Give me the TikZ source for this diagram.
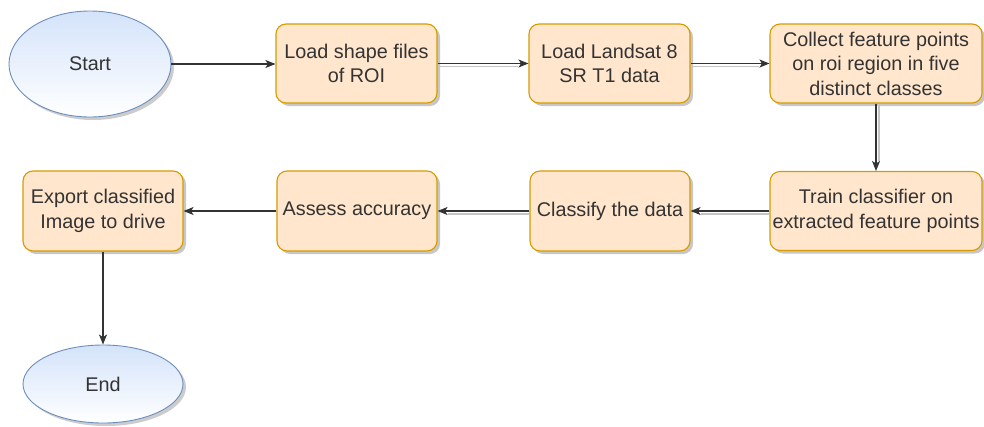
\documentclass[tikz,border=0pt]{standalone}
\usepackage{fontspec}
\setmainfont{Liberation Sans}
\usetikzlibrary{arrows.meta,shadows,shapes.geometric}
\definecolor{boxfill}{HTML}{FFE6CC}
\definecolor{boxline}{HTML}{D79B00}
\definecolor{ovaltop}{HTML}{D4E3FA}
\definecolor{ovalline}{HTML}{6C8EBF}
\definecolor{ink}{HTML}{333333}
\definecolor{edgeshade}{HTML}{C4C4C4}
\tikzset{
  lbl/.style={text=ink, font=\fontsize{19.8}{24.5}\selectfont, align=center},
  stepbox/.style={lbl, draw=boxline, line width=1.1pt, fill=boxfill,
    rounded corners=10pt, inner sep=0pt,
    drop shadow={shadow xshift=3pt, shadow yshift=-3pt, opacity=.22, fill=black}},
  oval/.style={lbl, ellipse, draw=ovalline, line width=0.9pt, inner sep=0pt,
    top color=ovaltop, bottom color=white,
    drop shadow={shadow xshift=3pt, shadow yshift=-3pt, opacity=.2, fill=black}},
  flow/.style={draw=ink, line width=1.1pt, -{Stealth[length=10pt,width=8pt,inset=2.5pt]}},
  flowshade/.style={draw=edgeshade, line width=1.3pt},
}
\begin{document}
\begin{tikzpicture}[x=1pt,y=-1pt]
\useasboundingbox[fill=white] (0,0) rectangle (984,426);

% terminals
\node[oval, minimum width=162pt, minimum height=106pt] (start) at (90,64) {Start};
\node[oval, minimum width=160pt, minimum height=78pt] (end) at (103,384) {End};

% first row of steps
\node[stepbox, minimum width=161pt, minimum height=79pt] (shp) at (356.5,63.5) {Load shape files\\of ROI};
\node[stepbox, minimum width=161pt, minimum height=79pt] (lsat) at (609.5,63.5) {Load Landsat 8\\SR T1 data};
\node[stepbox, minimum width=212pt, minimum height=79pt] (pts) at (876,63.5) {Collect feature points\\on roi region in five\\distinct classes};

% second row of steps
\node[stepbox, minimum width=212pt, minimum height=79pt] (train) at (876,211) {Train classifier on\\extracted feature points};
\node[stepbox, minimum width=160pt, minimum height=80pt] (cls) at (610,211) {Classify the data};
\node[stepbox, minimum width=160pt, minimum height=80pt] (acc) at (357,211) {Assess accuracy};
\node[stepbox, minimum width=160pt, minimum height=80pt] (exp) at (103,211) {Export classified\\Image to drive};

% soft shadows under some connectors
\draw[flowshade] ([yshift=-3pt]shp.east) -- ([xshift=-10pt,yshift=-3pt]lsat.west);
\draw[flowshade] ([yshift=-3pt]lsat.east) -- ([xshift=-10pt,yshift=-3pt]pts.west);
\draw[flowshade] ([xshift=3pt]pts.south) -- ([xshift=3pt,yshift=10pt]train.north);
\draw[flowshade] ([yshift=-3pt]train.west) -- ([xshift=10pt,yshift=-3pt]cls.east);
\draw[flowshade] ([yshift=-3pt]cls.west) -- ([xshift=10pt,yshift=-3pt]acc.east);

% connectors
\draw[flow] (start.east) -- (start.east -| shp.west);
\draw[flow] (shp.east) -- (lsat.west);
\draw[flow] (lsat.east) -- (pts.west);
\draw[flow] (pts.south) -- (train.north);
\draw[flow] (train.west) -- (cls.east);
\draw[flow] (cls.west) -- (acc.east);
\draw[flow] (acc.west) -- (exp.east);
\draw[flow] (exp.south) -- (end.north);
\end{tikzpicture}
\end{document}
